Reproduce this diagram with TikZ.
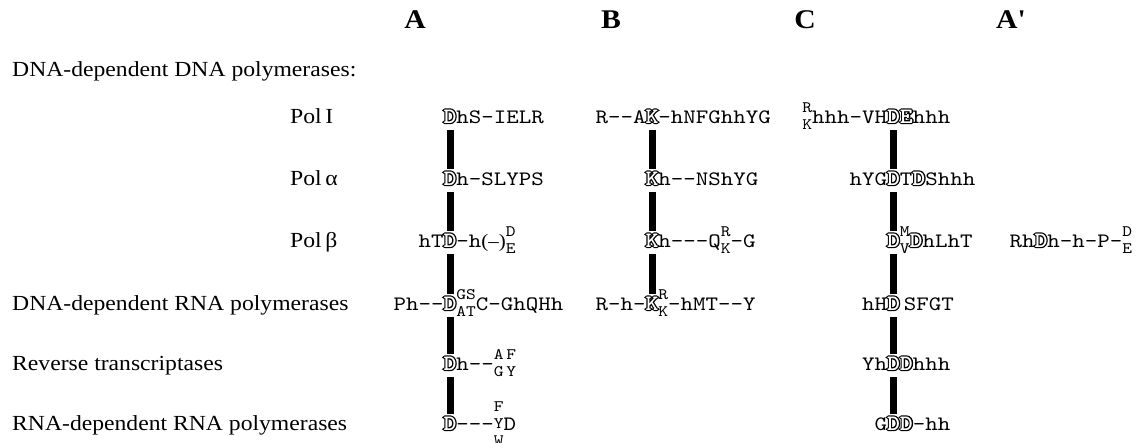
\documentclass[tikz,border=0pt]{standalone}
\usepackage{fontspec}
\newfontfamily\lab{Liberation Serif}[FakeStretch=1.1]
\newfontfamily\sq{lmmono10-regular.otf}[FakeStretch=1.16]
\newfontfamily\sqb{lmmonolt10-bold.otf}[FakeStretch=1.12]
\newcommand\hl[1]{{\fontsize{22}{24}\sqb\rlap{\special{pdf:literal direct 1 Tr 2.4 w}#1\special{pdf:literal direct 0 Tr}}\textcolor{white}{#1}}}
\newcommand\stk[1]{$\vcenter{\hbox{\fontsize{16}{17}\sq\begin{tabular}{@{}c@{}}#1\end{tabular}}}$}
\newcommand\minus{{\fontsize{19}{19}\lab(–)}}
\tikzset{
  seq/.style={inner sep=0pt, outer sep=0pt, font=\fontsize{20.5}{24}\sq},
  key/.style={seq, anchor=base},
  lt/.style={seq, anchor=base east},
  rt/.style={seq, anchor=base west},
  lbl/.style={inner sep=0pt, anchor=base west, font=\fontsize{21.5}{25}\lab},
  hd/.style={inner sep=0pt, anchor=base, font=\fontsize{27}{30}\lab\bfseries},
  bar/.style={line width=7pt, shorten <=7pt, shorten >=3pt},
}
\begin{document}
\begin{tikzpicture}[x=1pt,y=-1pt]
\useasboundingbox (0,0) rectangle (1148,442);
% headings
\node[hd] (hA) at (415,28) {A};
\node[hd] (hB) at (611,28) {B};
\node[hd] (hC) at (805,28) {C};
\node[hd] (hA2) at (1011,28) {A'};
% labels
\node[lbl] (l0) at (12,76) {DNA-dependent DNA polymerases:};
\node[lbl] (l1) at (290,123) {Pol\,I};
\node[lbl] (l2) at (290,185) {Pol\,α};
\node[lbl] (l3) at (290,247) {Pol\,β};
\node[lbl] (l4) at (12,310) {DNA-dependent RNA polymerases};
\node[lbl] (l5) at (12,370) {Reverse transcriptases};
\node[lbl] (l6) at (12,430) {RNA-dependent RNA polymerases};
% row 1
\node[key] (a1) at (450,123) {\hl{D}};
\node[rt] (a1r) at (a1.base east) {hS-IELR};
\node[key] (b1) at (652,123) {\hl{K}};
\node[lt] (b1l) at (b1.base west) {R--A};
\node[rt] (b1r) at (b1.base east) {-hNFGhhYG};
\node[key] (c1) at (893.5,123) {\hl{D}};
\node[lt] (c1l) at (c1.base west) {\stk{R\\K}hhh-VH};
\node[rt] (c1r) at (c1.base east) {\hl{E}hhh};
% row 2
\node[key] (a2) at (450,185) {\hl{D}};
\node[rt] (a2r) at (a2.base east) {h-SLYPS};
\node[key] (b2) at (652,185) {\hl{K}};
\node[rt] (b2r) at (b2.base east) {h--NShYG};
\node[key] (c2) at (893.5,185) {\hl{D}};
\node[lt] (c2l) at (c2.base west) {hYG};
\node[rt] (c2r) at (c2.base east) {T\hl{D}Shhh};
% row 3
\node[key] (a3) at (450,247) {\hl{D}};
\node[lt] (a3l) at (a3.base west) {hT};
\node[rt] (a3r) at (a3.base east) {-h\minus\stk{D\\E}};
\node[key] (b3) at (652,247) {\hl{K}};
\node[rt] (b3r) at (b3.base east) {h---Q\stk{R\\K}-G};
\node[key] (c3) at (893.5,247) {\hl{D}};
\node[rt] (c3r) at (c3.base east) {\stk{M\\V}\hl{D}hLhT};
\node[key] (d3) at (1041,247) {\hl{D}};
\node[lt] (d3l) at (d3.base west) {Rh};
\node[rt] (d3r) at (d3.base east) {h-h-P-\stk{D\\E}};
% row 4
\node[key] (a4) at (450,310) {\hl{D}};
\node[lt] (a4l) at (a4.base west) {Ph--\hspace{6pt}};
\node[rt] (a4r) at (a4.base east) {\stk{GS\\AT}C-GhQHh};
\node[key] (b4) at (652,310) {\hl{K}};
\node[lt] (b4l) at (b4.base west) {R-h-};
\node[rt] (b4r) at (b4.base east) {\stk{R\\K}-hMT--Y};
\node[key] (c4) at (893.5,310) {\hl{D}};
\node[lt] (c4l) at (c4.base west) {hH};
\node[rt] (c4r) at (c4.base east) {\hspace{4pt}SFGT};
% row 5
\node[key] (a5) at (450,370) {\hl{D}};
\node[rt] (a5r) at (a5.base east) {h--\stk{A\,F\\G\,Y}};
\node[key] (c5) at (893.5,370) {\hl{D}};
\node[lt] (c5l) at (c5.base west) {Yh};
\node[rt] (c5r) at (c5.base east) {\hl{D}hhh};
% row 6
\node[key] (a6) at (450,430) {\hl{D}};
\node[rt] (a6r) at (a6.base east) {---\stk{F\\Y\\W}D};
\node[key] (c6) at (893.5,430) {\hl{D}};
\node[lt] (c6l) at (c6.base west) {G};
\node[rt] (c6r) at (c6.base east) {\hl{D}-hh};
% bars
\draw[bar] (a1.south) -- (a2.north);
\draw[bar] (a2.south) -- (a3.north);
\draw[bar] (a3.south) -- (a4.north);
\draw[bar] (a4.south) -- (a5.north);
\draw[bar] (a5.south) -- (a6.north);
\draw[bar] (b1.south) -- (b2.north);
\draw[bar] (b2.south) -- (b3.north);
\draw[bar] (b3.south) -- (b4.north);
\draw[bar] (c1.south) -- (c2.north);
\draw[bar] (c2.south) -- (c3.north);
\draw[bar] (c3.south) -- (c4.north);
\draw[bar] (c4.south) -- (c5.north);
\draw[bar] (c5.south) -- (c6.north);
\end{tikzpicture}
\end{document}
